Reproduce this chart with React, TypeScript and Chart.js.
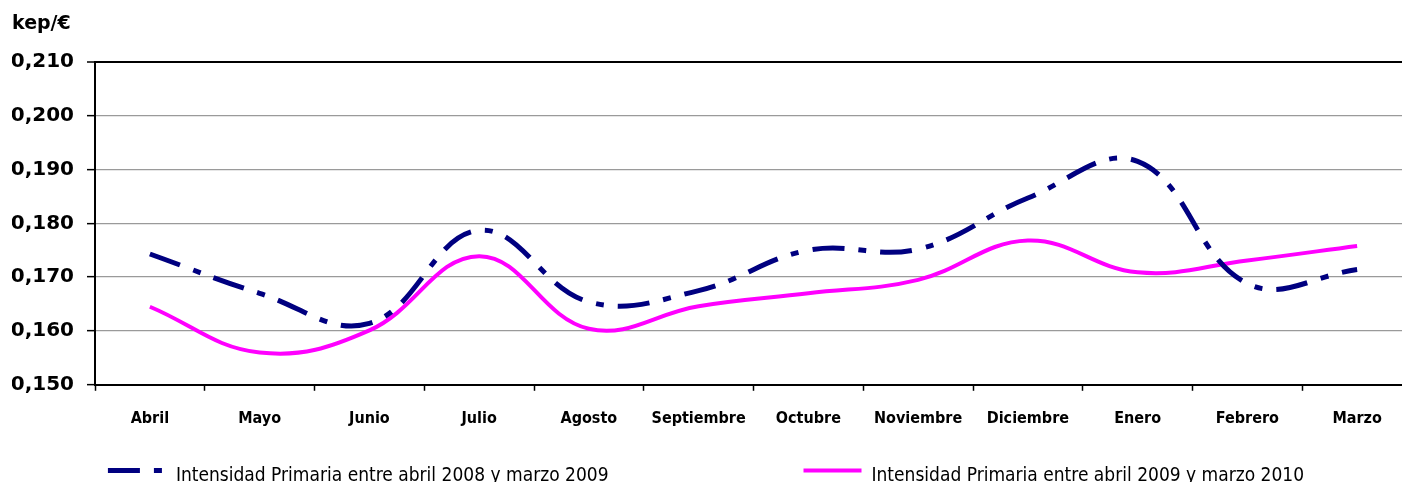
import React, { useEffect, useRef } from "react";
import { Chart, registerables } from "chart.js";

Chart.register(...registerables);

const months = ["Abril", "Mayo", "Junio", "Julio", "Agosto", "Septiembre", "Octubre", "Noviembre", "Diciembre", "Enero", "Febrero", "Marzo"];
const serie2008 = [0.1743, 0.1670, 0.1614, 0.1787, 0.1654, 0.1675, 0.1750, 0.1752, 0.1847, 0.1915, 0.1688, 0.1714];
const serie2009 = [0.1645, 0.1560, 0.1601, 0.1739, 0.1604, 0.1646, 0.1670, 0.1695, 0.1768, 0.1709, 0.1731, 0.1758];
const seriesLabels = ["Intensidad Primaria entre abril 2008 y marzo 2009", "Intensidad Primaria entre abril 2009 y marzo 2010"];
const unitLabel = "kep/€";
const yMin = 0.15;
const yMax = 0.21;
const yStep = 0.01;

const COND = "'DejaVu Sans Condensed', 'DejaVu Sans', sans-serif";
const WIDE = "'DejaVu Sans', sans-serif";

const legendPlugin = {
  id: "bottomLegend",
  afterDraw(chart: any) {
    const ctx = chart.ctx;
    const ds = chart.data.datasets;
    ctx.save();
    ctx.font = `19px ${COND}`;
    const sample = 58;
    const gap = 10;
    const spacing = 195;
    const widths = ds.map((d: any) => sample + gap + ctx.measureText(d.label).width);
    const total = widths.reduce((a: number, b: number) => a + b, 0) + spacing * (ds.length - 1);
    let x = (chart.width - total) / 2;
    const baseY = chart.height - 1;
    ds.forEach((d: any, i: number) => {
      ctx.beginPath();
      ctx.setLineDash(d.borderDash || []);
      ctx.strokeStyle = d.borderColor;
      ctx.lineWidth = d.borderWidth;
      ctx.moveTo(x, baseY - 10.5);
      ctx.lineTo(x + sample, baseY - 10.5);
      ctx.stroke();
      ctx.setLineDash([]);
      ctx.fillStyle = "#000";
      ctx.textBaseline = "alphabetic";
      ctx.textAlign = "left";
      ctx.fillText(d.label, x + sample + gap, baseY);
      x += widths[i] + spacing;
    });
    ctx.restore();
  },
};

export default function App() {
  const ref = useRef<HTMLCanvasElement>(null);
  useEffect(() => {
    if (!ref.current) return;
    const isTop = (c: any) => c.tick && Math.abs(c.tick.value - yMax) < 1e-9;
    const chart = new Chart(ref.current, {
      type: "line",
      data: {
        labels: months,
        datasets: [
          {
            label: seriesLabels[0],
            data: serie2008,
            borderColor: "#000080",
            backgroundColor: "#000080",
            borderWidth: 5,
            borderDash: [32, 14, 8, 14],
            pointRadius: 0,
            tension: 0.4,
            fill: false,
          },
          {
            label: seriesLabels[1],
            data: serie2009,
            borderColor: "#FF00FF",
            backgroundColor: "#FF00FF",
            borderWidth: 4,
            pointRadius: 0,
            tension: 0.4,
            fill: false,
          },
        ],
      },
      options: {
        animation: false,
        responsive: true,
        maintainAspectRatio: false,
        layout: { padding: { left: 12, right: 0, top: 0, bottom: 36 } },
        plugins: {
          legend: { display: false },
          tooltip: { enabled: false },
          title: {
            display: true,
            text: unitLabel,
            align: "start",
            color: "#000",
            font: { family: WIDE, size: 19, weight: "bold" },
            padding: { top: 13, bottom: 26 },
          },
        },
        scales: {
          x: {
            type: "category",
            offset: true,
            grid: { offset: true, drawOnChartArea: false, tickLength: 6, tickColor: "#000", tickWidth: 1.5 },
            border: { display: true, color: "#000", width: 2 },
            ticks: { color: "#000", padding: 18, maxRotation: 0, autoSkip: false, font: { family: COND, size: 16, weight: "bold" } },
          },
          y: {
            min: yMin,
            max: yMax,
            afterFit: (s: any) => { s.width = 83; },
            grid: {
              color: (c: any) => (isTop(c) ? "#000" : "#9a9a9a"),
              lineWidth: (c: any) => (isTop(c) ? 2 : 1.3),
              tickLength: 8,
              tickColor: "#000",
              tickWidth: 1.5,
            },
            border: { display: true, color: "#000", width: 2 },
            ticks: {
              stepSize: yStep,
              color: "#000",
              padding: 13,
              font: { family: WIDE, size: 20, weight: "bold" },
              callback: (v: any) => Number(v).toFixed(3).replace(".", ","),
            },
          },
        },
      },
      plugins: [legendPlugin],
    });
    return () => chart.destroy();
  }, []);
  return (
    <div style={{ position: "absolute", left: 0, top: 0, width: 1402, height: 482, overflow: "hidden", background: "#fff" }}>
      <div style={{ position: "relative", width: 1412, height: 482 }}>
        <canvas ref={ref} />
      </div>
    </div>
  );
}
